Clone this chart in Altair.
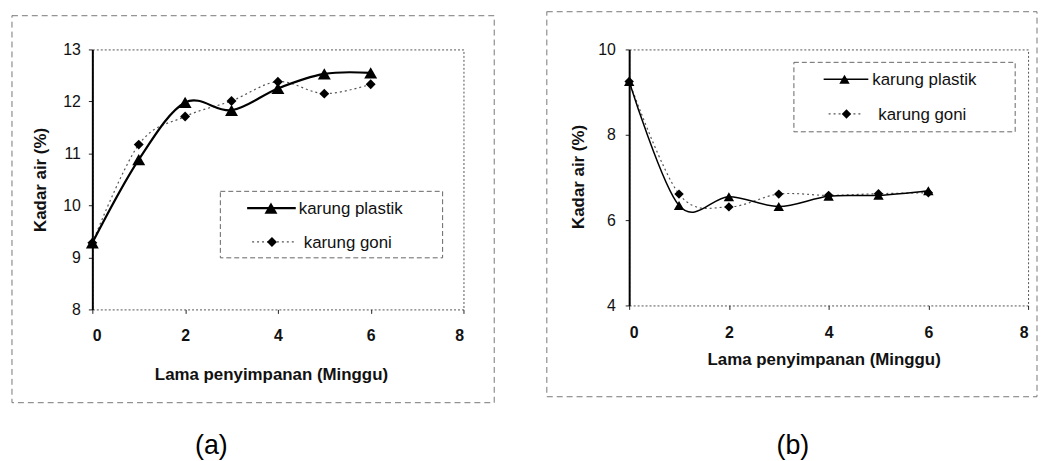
import altair as alt
import pandas as pd

# ---- data ----
weeks = [0, 1, 2, 3, 4, 5, 6]
series_names = ["karung plastik", "karung goni"]
panel_labels = ["(a)", "(b)"]
x_title = "Lama penyimpanan (Minggu)"
y_title = "Kadar air (%)"

a_plastik = [9.28, 10.88, 11.98, 11.83, 12.25, 12.53, 12.55]
a_goni = [9.28, 11.17, 11.71, 12.01, 12.38, 12.15, 12.33]
b_plastik = [9.25, 6.34, 6.55, 6.32, 6.56, 6.58, 6.69]
b_goni = [9.25, 6.61, 6.31, 6.61, 6.58, 6.62, 6.64]

x_ticks = [0, 2, 4, 6, 8]
a_y_ticks = [8, 9, 10, 11, 12, 13]
b_y_ticks = [4, 6, 8, 10]

FONT = "Liberation Sans"


def one(val):
    return pd.DataFrame({"v": [val]})


def panel(plastik, goni, yticks, w, h, st, label):
    df_p = pd.DataFrame({"week": weeks, "val": plastik})
    df_g = pd.DataFrame({"week": weeks, "val": goni})
    xs = alt.Scale(domain=[0, 8], nice=False)
    ys = alt.Scale(domain=[yticks[0], yticks[-1]], nice=False, zero=False)
    xax = alt.Axis(values=x_ticks, title=x_title, grid=False, domain=False,
                   labelFont=FONT, labelFontSize=16, labelFontWeight="bold",
                   labelColor="#111", tickColor="#222", tickSize=4,
                   labelPadding=st["xlp"], titleFont=FONT, titleFontSize=17,
                   titleFontWeight="bold", titleColor="#111",
                   titleX=st["xtx"], titleY=st["xty"], titleBaseline="middle")
    yax = alt.Axis(values=yticks, title=y_title, grid=False, domain=True,
                   domainColor="#000", domainWidth=2,
                   labelFont=FONT, labelFontSize=16, labelColor="#111",
                   tickColor="#222", tickSize=4, labelPadding=st["ylp"],
                   titleFont=FONT, titleFontSize=17, titleFontWeight="bold",
                   titleColor="#111", titleAngle=-90,
                   titleX=st["ytx"], titleY=st["yty"], titleBaseline="middle")

    x = alt.X("week:Q", scale=xs, axis=xax)
    y = alt.Y("val:Q", scale=ys, axis=yax)

    line_g = alt.Chart(df_g).mark_line(
        interpolate="cardinal", color="#555", strokeWidth=1.2,
        strokeDash=[2, 3]).encode(x=x, y=y)
    line_p = alt.Chart(df_p).mark_line(
        interpolate="cardinal", color="#000",
        strokeWidth=st["lw"]).encode(x=x, y=y)
    pts_g = alt.Chart(df_g).mark_point(
        shape="diamond", filled=True, color="#000", opacity=1,
        size=st["dsize"]).encode(x=x, y=y)
    pts_p = alt.Chart(df_p).mark_point(
        shape="triangle-up", filled=True, color="#000", opacity=1,
        size=st["tsize"]).encode(x=x, y=y)

    fx0, fx1, fy0, fy1 = st["frame"]
    frame = alt.Chart(one(0)).mark_rect(
        fillOpacity=0, stroke="#777", strokeWidth=1, strokeDash=[6, 4]
    ).encode(x=alt.value(fx0), x2=alt.value(fx1),
             y=alt.value(fy0), y2=alt.value(fy1))

    lx0, lx1, ly0, ly1 = st["lbox"]
    lbox = alt.Chart(one(0)).mark_rect(
        fill="white", stroke="#666", strokeWidth=1, strokeDash=[5, 3]
    ).encode(x=alt.value(lx0), x2=alt.value(lx1),
             y=alt.value(ly0), y2=alt.value(ly1))

    e1 = st["e1"]
    e2 = st["e2"]
    leg_l1 = alt.Chart(one(0)).mark_rule(color="#000", strokeWidth=st["lw"]).encode(
        x=alt.value(e1["l0"]), x2=alt.value(e1["l1"]), y=alt.value(e1["y"]))
    leg_s1 = alt.Chart(one(0)).mark_point(
        shape="triangle-up", filled=True, color="#000", opacity=1,
        size=st["tsize"]).encode(x=alt.value(e1["s"]), y=alt.value(e1["y"]))
    leg_t1 = alt.Chart(pd.DataFrame({"t": [series_names[0]]})).mark_text(
        align="left", baseline="alphabetic", font=FONT, fontSize=17,
        color="#111").encode(text="t:N", x=alt.value(e1["tx"]),
                             y=alt.value(e1["ty"]))
    leg_l2 = alt.Chart(one(0)).mark_rule(
        color="#555", strokeWidth=1.2, strokeDash=[2, 3]).encode(
        x=alt.value(e2["l0"]), x2=alt.value(e2["l1"]), y=alt.value(e2["y"]))
    leg_s2 = alt.Chart(one(0)).mark_point(
        shape="diamond", filled=True, color="#000", opacity=1,
        size=st["dsize"]).encode(x=alt.value(e2["s"]), y=alt.value(e2["y"]))
    leg_t2 = alt.Chart(pd.DataFrame({"t": [series_names[1]]})).mark_text(
        align="left", baseline="alphabetic", font=FONT, fontSize=17,
        color="#111").encode(text="t:N", x=alt.value(e2["tx"]),
                             y=alt.value(e2["ty"]))

    lab = alt.Chart(pd.DataFrame({"t": [label]})).mark_text(
        align="center", baseline="middle", font=FONT, fontSize=27,
        color="#000").encode(text="t:N", x=alt.value(st["lab"][0]),
                             y=alt.value(st["lab"][1]))

    return alt.layer(
        frame, line_g, line_p, pts_g, pts_p,
        lbox, leg_l2, leg_l1, leg_s2, leg_s1, leg_t1, leg_t2, lab
    ).properties(width=w, height=h)


st_a = dict(
    xlp=14, ylp=8, xtx=180, xty=66, ytx=-52, yty=131, lw=2.2,
    tsize=170, dsize=100,
    frame=(-81, 405, -34, 356),
    lbox=(129, 353, 143, 210),
    e1=dict(l0=156, l1=205, s=180, y=160, tx=208, ty=166),
    e2=dict(l0=161, l1=203, s=181, y=194, tx=213, ty=200),
    lab=(120, 400),
)
st_b = dict(
    xlp=15, ylp=10, xtx=196, xty=55, ytx=-51, yty=128, lw=1.5,
    tsize=110, dsize=90,
    frame=(-83, 411, -38, 350),
    lbox=(166, 389, 13, 83),
    e1=dict(l0=196, l1=241, s=217, y=30, tx=245, ty=36),
    e2=dict(l0=201, l1=234, s=219, y=65, tx=251, ty=71),
    lab=(165, 400),
)

pa = panel(a_plastik, a_goni, a_y_ticks, 374, 262, st_a, panel_labels[0])
pb = panel(b_plastik, b_goni, b_y_ticks, 402, 258, st_b, panel_labels[1])

chart = alt.hconcat(pa, pb, spacing=51).properties(
    padding={"left": 3, "top": 1, "right": 0, "bottom": 0},
    background="white",
).configure_view(stroke="#555", strokeWidth=1, strokeDash=[2, 2])

chart.save("out.html", embed_options={"renderer": "svg", "actions": False})
